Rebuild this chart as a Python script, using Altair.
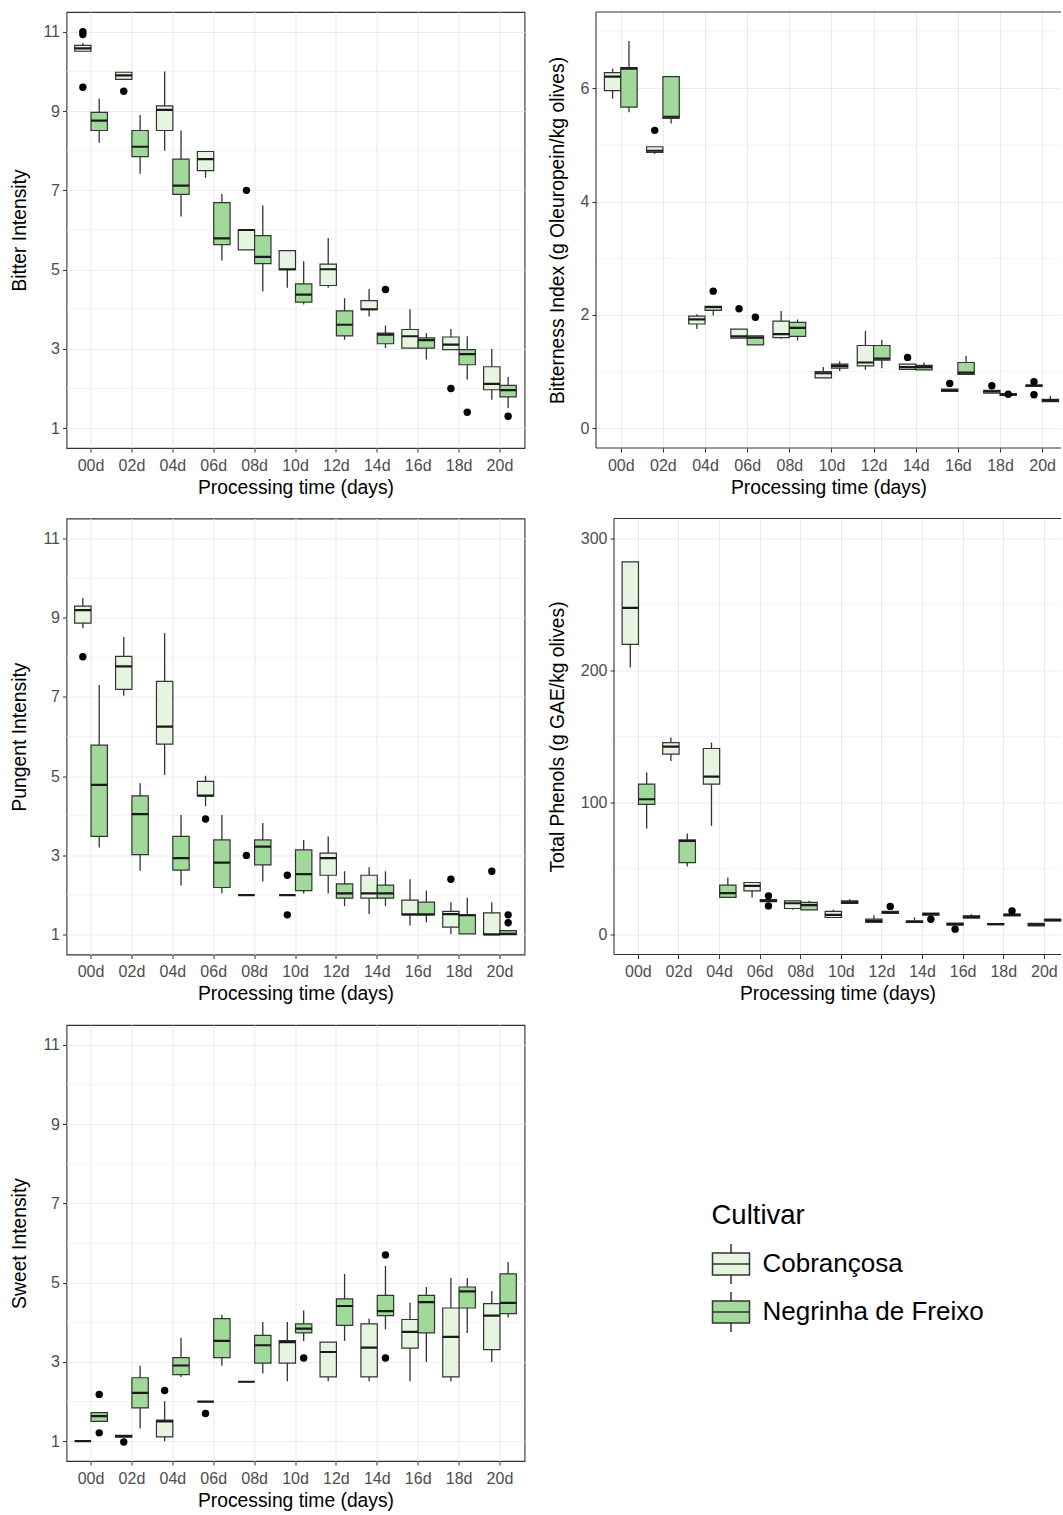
import altair as alt
import pandas as pd

DAYS = ["00d", "02d", "04d", "06d", "08d", "10d", "12d", "14d", "16d", "18d", "20d"]
CULTIVARS = ["Cobrançosa", "Negrinha de Freixo"]
FILLS = ["#e5f5e0", "#a1d99b"]

# box statistics per day: (lower whisker, q1, median, q3, upper whisker)
bitter_cob = [(10.50, 10.51, 10.58, 10.66, 10.72), (9.80, 9.80, 9.90, 9.98, 9.98),
              (8.00, 8.51, 9.03, 9.13, 10.0), (7.32, 7.50, 7.79, 7.98, 7.98),
              (5.50, 5.50, 6.00, 6.01, 6.01), (4.54, 5.00, 5.01, 5.48, 5.48),
              (4.54, 4.60, 5.01, 5.14, 5.80), (3.82, 3.99, 4.00, 4.22, 4.51),
              (3.02, 3.02, 3.32, 3.49, 4.00), (2.98, 2.98, 3.11, 3.30, 3.50),
              (1.72, 1.97, 2.12, 2.55, 3.00)]
bitter_neg = [(8.20, 8.51, 8.76, 8.97, 9.31), (7.42, 7.85, 8.10, 8.51, 8.90),
              (6.34, 6.90, 7.12, 7.79, 8.51), (5.23, 5.63, 5.79, 6.69, 6.91),
              (4.45, 5.15, 5.32, 5.86, 6.62), (4.12, 4.18, 4.37, 4.64, 5.21),
              (3.23, 3.33, 3.61, 3.96, 4.28), (3.02, 3.13, 3.36, 3.40, 3.59),
              (2.73, 3.02, 3.22, 3.28, 3.40), (2.23, 2.60, 2.87, 2.98, 3.32),
              (1.51, 1.79, 1.96, 2.08, 2.29)]
bitter_out = [("00d", 0, 11.0), ("00d", 0, 10.93), ("00d", 0, 9.6), ("02d", 0, 9.5),
              ("08d", 0, 7.0), ("14d", 1, 4.5), ("18d", 0, 2.0), ("18d", 1, 1.4),
              ("20d", 1, 1.3)]

index_cob = [(5.82, 5.96, 6.21, 6.28, 6.35), (4.84, 4.87, 4.90, 4.97, 4.97),
             (1.75, 1.84, 1.92, 1.98, 2.01), (1.59, 1.59, 1.62, 1.75, 1.75),
             (1.58, 1.60, 1.66, 1.89, 2.07), (0.89, 0.89, 0.97, 1.00, 1.08),
             (1.03, 1.10, 1.16, 1.46, 1.72), (1.04, 1.04, 1.08, 1.13, 1.13),
             (0.65, 0.65, 0.67, 0.69, 0.69), (0.62, 0.62, 0.65, 0.67, 0.67),
             (0.74, 0.74, 0.75, 0.76, 0.76)]
index_neg = [(5.58, 5.67, 6.35, 6.37, 6.84), (5.38, 5.47, 5.50, 6.21, 6.21),
             (1.99, 2.08, 2.14, 2.15, 2.15), (1.47, 1.47, 1.60, 1.63, 1.63),
             (1.55, 1.62, 1.77, 1.87, 1.92), (1.01, 1.06, 1.10, 1.13, 1.18),
             (1.06, 1.20, 1.23, 1.46, 1.56), (1.03, 1.03, 1.08, 1.11, 1.16),
             (0.95, 0.95, 0.98, 1.16, 1.28), (0.58, 0.58, 0.59, 0.61, 0.61),
             (0.47, 0.47, 0.49, 0.51, 0.57)]
index_out = [("02d", 0, 5.26), ("04d", 1, 2.42), ("06d", 0, 2.11), ("06d", 1, 1.96),
             ("14d", 0, 1.25), ("16d", 0, 0.79), ("18d", 0, 0.75), ("18d", 1, 0.60),
             ("20d", 0, 0.82), ("20d", 0, 0.59)]

pungent_cob = [(8.73, 8.86, 9.19, 9.29, 9.49), (7.03, 7.19, 7.77, 8.02, 8.51),
               (5.03, 5.81, 6.25, 7.39, 8.61), (4.24, 4.50, 4.51, 4.87, 5.01),
               (2.0, 2.0, 2.0, 2.0, 2.0), (2.0, 2.0, 2.0, 2.0, 2.0),
               (2.04, 2.50, 2.93, 3.06, 3.48), (1.52, 1.92, 2.04, 2.50, 2.70),
               (1.23, 1.50, 1.51, 1.87, 2.40), (1.02, 1.19, 1.52, 1.59, 1.82),
               (1.0, 1.0, 1.01, 1.55, 1.82)]
pungent_neg = [(3.20, 3.48, 4.78, 5.78, 7.30), (2.61, 3.02, 4.04, 4.50, 4.82),
               (2.24, 2.63, 2.93, 3.48, 4.02), (2.04, 2.19, 2.82, 3.39, 4.02),
               (2.34, 2.76, 3.22, 3.39, 3.82), (2.04, 2.11, 2.53, 3.14, 3.39),
               (1.72, 1.92, 2.04, 2.28, 2.60), (1.72, 1.92, 2.04, 2.25, 2.60),
               (1.31, 1.50, 1.51, 1.82, 2.11), (1.02, 1.02, 1.49, 1.50, 1.93),
               (1.0, 1.0, 1.02, 1.10, 1.10)]
pungent_out = [("00d", 0, 8.01), ("06d", 0, 3.92), ("08d", 0, 3.0), ("10d", 0, 2.5),
               ("10d", 0, 1.5), ("18d", 0, 2.4), ("20d", 0, 2.6), ("20d", 1, 1.5),
               ("20d", 1, 1.3)]

phenols_cob = [(202.2, 219.8, 247.3, 282.1, 282.1), (131.5, 136.6, 142.4, 145.4, 149.2),
               (82.4, 113.9, 119.7, 140.9, 145.4), (28.2, 33.2, 36.9, 39.5, 39.5),
               (18.8, 19.8, 23.8, 25.6, 25.6), (13.0, 13.0, 15.0, 17.6, 18.8),
               (9.3, 9.3, 10.5, 11.7, 14.8), (9.3, 9.3, 9.8, 10.4, 13.0),
               (7.2, 7.2, 8.0, 8.7, 8.7), (7.6, 7.6, 8.0, 8.3, 8.3),
               (6.7, 6.7, 7.5, 8.5, 8.5)]
phenols_neg = [(80.4, 98.7, 102.5, 113.9, 122.7), (51.6, 54.6, 70.9, 71.7, 76.6),
               (28.2, 28.2, 31.4, 37.5, 43.3), (25.0, 25.0, 25.6, 26.5, 26.5),
               (18.8, 18.8, 22.3, 24.4, 25.6), (23.6, 23.6, 24.5, 25.6, 26.9),
               (16.1, 16.1, 16.8, 17.6, 17.6), (14.8, 14.8, 15.5, 16.3, 16.3),
               (12.5, 12.5, 13.5, 14.3, 15.5), (14.3, 14.3, 15.0, 15.5, 15.5),
               (10.4, 10.4, 11.0, 11.7, 11.7)]
phenols_out = [("06d", 1, 29.4), ("06d", 1, 21.8), ("12d", 1, 21.4), ("14d", 1, 11.7),
               ("16d", 0, 4.2), ("18d", 1, 18.0)]

sweet_cob = [(1.0, 1.0, 1.0, 1.0, 1.0), (1.10, 1.10, 1.13, 1.15, 1.15),
             (1.0, 1.11, 1.50, 1.53, 2.01), (2.0, 2.0, 2.0, 2.0, 2.0),
             (2.5, 2.5, 2.5, 2.5, 2.5), (2.51, 2.97, 3.50, 3.54, 4.01),
             (2.51, 2.62, 3.25, 3.50, 3.50), (2.51, 2.62, 3.36, 3.96, 4.09),
             (2.51, 3.35, 3.76, 4.07, 4.49), (2.51, 2.62, 3.63, 4.36, 5.12),
             (3.0, 3.31, 4.17, 4.47, 4.79)]
sweet_neg = [(1.50, 1.50, 1.63, 1.72, 1.72), (1.32, 1.84, 2.22, 2.60, 2.90),
             (2.62, 2.68, 2.91, 3.11, 3.61), (2.90, 3.11, 3.53, 4.09, 4.19),
             (2.71, 2.97, 3.42, 3.67, 4.01), (3.53, 3.73, 3.84, 3.96, 4.30),
             (3.53, 3.92, 4.41, 4.59, 5.22), (3.82, 4.17, 4.28, 4.68, 5.42),
             (3.0, 3.73, 4.51, 4.68, 4.89), (3.73, 4.36, 4.78, 4.89, 5.12),
             (4.12, 4.22, 4.49, 5.22, 5.52)]
sweet_out = [("00d", 1, 2.18), ("00d", 1, 1.21), ("02d", 0, 0.98), ("04d", 0, 2.28),
             ("06d", 0, 1.70), ("10d", 1, 3.10), ("14d", 1, 5.70), ("14d", 1, 3.10)]

INTENSITY_MAJOR = [1, 3, 5, 7, 9, 11]
INTENSITY_MINOR = [2, 4, 6, 8, 10]

FONT = "Liberation Sans"
BOX_SYMBOL = "M-1,-0.6H1V0.6H-1Z M-1,0H1 M0,-0.6V-1.08 M0,0.6V1.08"
FRAME = "#333333"


def box_df(cob, neg):
    rows = []
    for cult, stats in zip(CULTIVARS, (cob, neg)):
        for d, (lo, q1, med, q3, hi) in zip(DAYS, stats):
            rows.append(dict(day=d, cultivar=cult, lo=lo, q1=q1, med=med, q3=q3, hi=hi))
    return pd.DataFrame(rows)


def out_df(outs):
    return pd.DataFrame([dict(day=d, cultivar=CULTIVARS[c], v=v) for d, c, v in outs])


fill_enc = alt.Fill(
    "cultivar:N",
    scale=alt.Scale(domain=CULTIVARS, range=FILLS),
    legend=alt.Legend(
        title="Cultivar", orient="none", legendX=645, legendY=1190,
        symbolType=BOX_SYMBOL, symbolSize=1369, symbolStrokeColor=FRAME,
        symbolStrokeWidth=1.5, symbolOpacity=1,
        labelFont=FONT, labelFontSize=26, labelColor="#000000", labelOffset=12,
        labelLimit=400,
        titleFont=FONT, titleFontSize=27.5, titleFontWeight="normal",
        titleColor="#000000", titlePadding=15, rowPadding=1,
    ),
)


def panel(cob, neg, outs, ytitle, domain, major, minor, width, cut=None, height=436):
    data = box_df(cob, neg)
    if cut is None:
        xscale = alt.Scale(type="band", domain=DAYS, paddingInner=0.2, paddingOuter=0.2)
    else:
        # the panel runs past the picture's right edge: less room after the last day
        p_out, align = cut
        xscale = alt.Scale(type="band", domain=DAYS, paddingInner=0.2,
                           paddingOuter=p_out, align=align)
    x = alt.X("day:N", sort=DAYS, scale=xscale,
              axis=alt.Axis(title="Processing time (days)", grid=True, bandPosition=0.5,
                            labelAngle=0, titlePadding=5, labelPadding=5))
    xoff = alt.XOffset("cultivar:N", scale=alt.Scale(domain=CULTIVARS, paddingInner=0, paddingOuter=0))
    ys = alt.Scale(domain=domain, nice=False, zero=False)
    ya = alt.Axis(title=ytitle, values=major, grid=True, titlePadding=13, labelPadding=3)

    minor_grid = alt.Chart(pd.DataFrame({"v": minor})).mark_rule(
        color="#ebebeb", strokeWidth=0.6
    ).encode(y=alt.Y("v:Q", scale=ys, axis=ya))
    whisk = alt.Chart(data).mark_rule(color=FRAME, strokeWidth=1.3).encode(
        x=x, xOffset=xoff, y=alt.Y("lo:Q", scale=ys, axis=ya), y2="hi:Q")
    box = alt.Chart(data).mark_bar(stroke=FRAME, strokeWidth=1.2).encode(
        x=x, xOffset=xoff, y=alt.Y("q1:Q", scale=ys, axis=ya), y2="q3:Q", fill=fill_enc)
    med = alt.Chart(data).mark_bar(fill="transparent", stroke="#1a1a1a", strokeWidth=2.2).encode(
        x=x, xOffset=xoff, y=alt.Y("med:Q", scale=ys, axis=ya), y2="med:Q")
    pts = alt.Chart(out_df(outs)).mark_circle(color="#000000", size=55, opacity=1).encode(
        x=x, xOffset=xoff, y=alt.Y("v:Q", scale=ys, axis=ya))
    layers = [minor_grid, whisk, box, med, pts]
    if cut is None:
        view = alt.ViewBackground(stroke=FRAME, strokeWidth=1.1)
    else:
        view = alt.ViewBackground(stroke="transparent")
        edges = alt.Chart(pd.DataFrame({"v": domain})).mark_rule(
            color=FRAME, strokeWidth=1.1).encode(y=alt.Y("v:Q", scale=ys, axis=ya))
        left_edge = alt.Chart(pd.DataFrame({"v": [0]})).mark_rule(
            color=FRAME, strokeWidth=1.1).encode(x=alt.value(0))
        layers += [edges, left_edge]
    return alt.layer(*layers).properties(width=width, height=height, view=view)


p1 = panel(bitter_cob, bitter_neg, bitter_out, "Bitter Intensity", [0.5, 11.5],
           INTENSITY_MAJOR, INTENSITY_MINOR, 458)
p2 = panel(index_cob, index_neg, index_out, "Bitterness Index (g Oleuropein/kg olives)",
           [-0.35, 7.35], [0, 2, 4, 6], [1, 3, 5, 7], 465, cut=(0.1175, 0.851))
p3 = panel(pungent_cob, pungent_neg, pungent_out, "Pungent Intensity", [0.5, 11.5],
           INTENSITY_MAJOR, INTENSITY_MINOR, 458)
p4 = panel(phenols_cob, phenols_neg, phenols_out, "Total Phenols (g GAE/kg olives)",
           [-15, 315], [0, 100, 200, 300], [50, 150, 250], 447, cut=(0.105, 0.952))
p5 = panel(sweet_cob, sweet_neg, sweet_out, "Sweet Intensity", [0.5, 11.5],
           INTENSITY_MAJOR, INTENSITY_MINOR, 458)

spacer = alt.Chart(pd.DataFrame({"a": [0]})).mark_point(opacity=0).encode(
    x=alt.X("a:Q", axis=None), y=alt.Y("a:Q", axis=None)
).properties(width=18, height=436)

left = alt.vconcat(p1, p3, p5, spacing=70.5, bounds="flush")
right = alt.vconcat(p2, alt.hconcat(spacer, p4, spacing=0, bounds="flush"),
                    spacing=70.5, bounds="flush")

chart = alt.hconcat(left, right, spacing=21.5).properties(
    padding={"left": 9.5, "top": 10, "right": 0, "bottom": 0}
).configure_view(stroke="transparent").configure_axis(
    labelFont=FONT, titleFont=FONT, labelFontSize=16, titleFontSize=19.3,
    labelColor="#4d4d4d", titleColor="#000000", titleFontWeight="normal",
    tickColor=FRAME, tickSize=4, domain=False, gridColor="#ebebeb",
    gridWidth=1.1,
)

chart.save("out.html", embed_options={"renderer": "svg", "actions": False})
